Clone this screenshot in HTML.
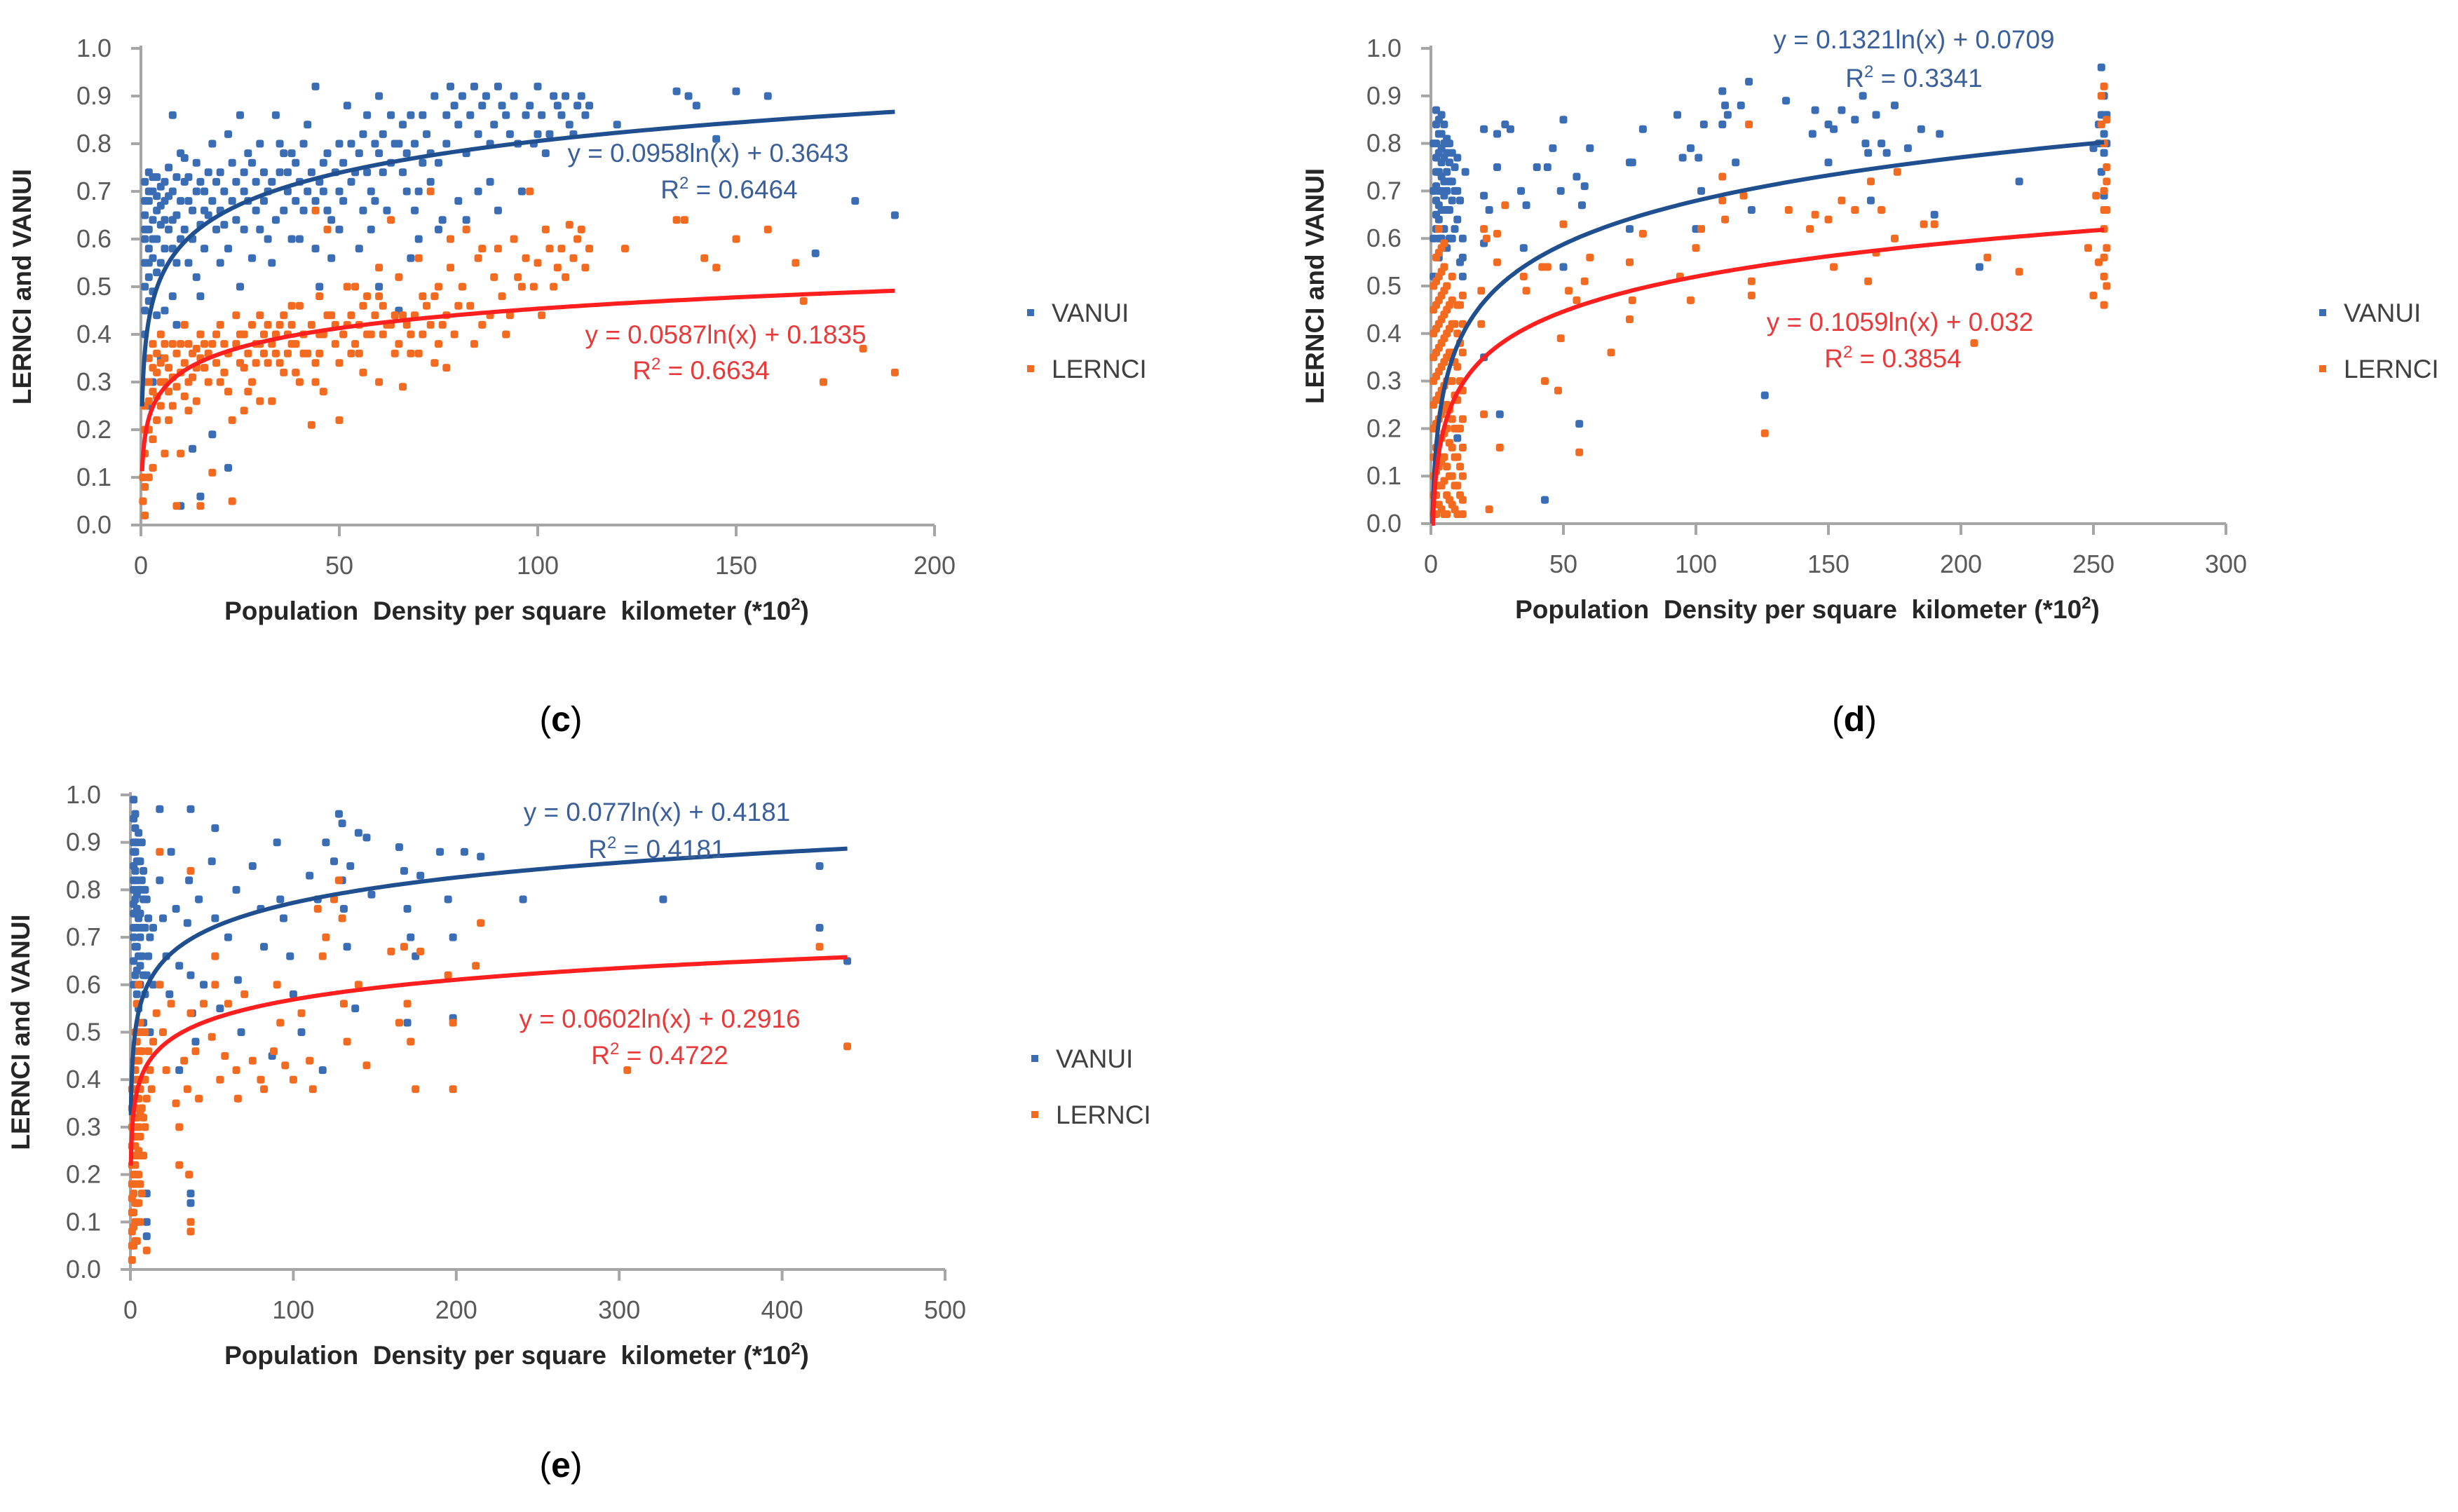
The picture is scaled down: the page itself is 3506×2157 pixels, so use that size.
<!DOCTYPE html>
<html><head><meta charset="utf-8"><style>
html,body{margin:0;padding:0;background:#fff;}
svg{display:block;}
text{font-family:"Liberation Sans Narrow","Liberation Sans",sans-serif;}
</style></head><body>
<svg id="fig" width="3506" height="2157" viewBox="0 0 3506 2157" xmlns="http://www.w3.org/2000/svg"></svg>
<script>
// ---------- data ----------
const yTicks = [0,0.1,0.2,0.3,0.4,0.5,0.6,0.7,0.8,0.9,1.0];
const cXTicks = [0,50,100,150,200];
const dXTicks = [0,50,100,150,200,250,300];
const eXTicks = [0,100,200,300,400,500];
const cVanuiFit = [0.0958,0.3643,190];
const cLernciFit = [0.0587,0.1835,190];
const dVanuiFit = [0.1321,0.0709,254];
const dLernciFit = [0.1059,0.032,254];
const eVanuiFit = [0.077,0.4181,440];
const eLernciFit = [0.0602,0.2916,440];
const cVanui = [[1,0.72],[1,0.65],[1,0.6],[1,0.55],[1,0.5],[1,0.45],[1,0.4],[2,0.74],[2,0.68],[2,0.62],[2,0.58],[2,0.52],[2,0.47],[3,0.7],[3,0.64],[3,0.56],[3,0.49],[4,0.73],[4,0.66],[4,0.6],[5,0.71],[5,0.63],[5,0.55],[6,0.68],[6,0.58],[7,0.75],[7,0.62],[8,0.86],[8,0.7],[9,0.65],[10,0.6],[10,0.78],[11,0.72],[12,0.55],[12,0.68],[14,0.76],[15,0.63],[15,0.48],[16,0.7],[18,0.8],[18,0.19],[20,0.66],[20,0.74],[22,0.58],[22,0.82],[24,0.72],[25,0.86],[25,0.5],[27,0.68],[28,0.76],[30,0.62],[30,0.8],[32,0.7],[33,0.55],[34,0.86],[35,0.74],[36,0.66],[38,0.78],[40,0.72],[40,0.6],[42,0.84],[44,0.92],[44,0.68],[45,0.5],[46,0.76],[48,0.64],[50,0.8],[50,0.7],[52,0.88],[54,0.74],[55,0.58],[56,0.82],[58,0.7],[60,0.78],[60,0.9],[62,0.66],[64,0.8],[65,0.45],[66,0.74],[68,0.86],[70,0.7],[70,0.6],[72,0.82],[74,0.9],[75,0.76],[76,0.64],[78,0.92],[80,0.84],[82,0.78],[84,0.92],[85,0.7],[86,0.88],[88,0.8],[90,0.92],[90,0.66],[92,0.86],[94,0.9],[95,0.8],[96,0.7],[98,0.88],[100,0.92],[100,0.82],[102,0.78],[104,0.9],[106,0.86],[108,0.84],[110,0.88],[112,0.86],[120,0.84],[135,0.91],[138,0.9],[140,0.88],[145,0.81],[150,0.91],[158,0.9],[170,0.57],[180,0.68],[190,0.65],[13,0.16],[15,0.06],[10,0.04],[22,0.12],[17,0.65],[9,0.42],[5,0.35],[3,0.3],[2,0.25],[26,0.62],[36,0.78],[46,0.7],[56,0.66],[66,0.84],[28,0.56],[38,0.6],[42,0.7],
[1,0.68],[1,0.62],[2,0.7],[2,0.55],[3,0.73],[3,0.6],[4,0.69],[4,0.53],[5,0.67],[6,0.72],[6,0.64],[7,0.69],[8,0.64],[8,0.58],[9,0.73],[9,0.55],[10,0.68],[11,0.62],[11,0.77],[12,0.73],[13,0.66],[13,0.6],[14,0.7],[15,0.72],[16,0.66],[16,0.58],[17,0.74],[18,0.68],[19,0.62],[19,0.72],[21,0.7],[21,0.63],[23,0.68],[23,0.76],[24,0.64],[26,0.74],[26,0.7],[27,0.78],[29,0.66],[29,0.72],[31,0.74],[31,0.68],[33,0.72],[34,0.64],[35,0.8],[37,0.7],[37,0.74],[39,0.68],[39,0.76],[41,0.66],[41,0.8],[43,0.74],[45,0.72],[47,0.78],[47,0.66],[49,0.74],[51,0.76],[51,0.68],[53,0.72],[53,0.8],[55,0.78],[57,0.74],[57,0.86],[59,0.8],[59,0.68],[61,0.74],[61,0.82],[63,0.76],[63,0.86],[65,0.8],[67,0.78],[67,0.7],[69,0.8],[69,0.66],[71,0.86],[71,0.76],[73,0.78],[73,0.72],[77,0.86],[77,0.8],[79,0.88],[81,0.9],[83,0.86],[85,0.82],[87,0.9],[89,0.84],[91,0.88],[93,0.82],[97,0.86],[99,0.8],[101,0.86],[103,0.82],[105,0.88],[107,0.9],[109,0.82],[111,0.9],[113,0.88],[58,0.62],[68,0.56],[75,0.62],[82,0.64],[48,0.56],[32,0.6],[20,0.55],[14,0.52],[8,0.48],[6,0.45],[4,0.44],[80,0.68],[88,0.72],[60,0.5],[44,0.58],[50,0.62]];
const cLernci = [[0.5,0.05],[0.5,0.1],[1,0.15],[1,0.2],[1,0.25],[1,0.02],[2,0.3],[2,0.35],[2,0.1],[3,0.38],[3,0.28],[3,0.18],[4,0.32],[4,0.22],[5,0.4],[5,0.3],[6,0.35],[6,0.15],[7,0.28],[8,0.38],[8,0.25],[9,0.04],[10,0.32],[10,0.15],[11,0.42],[12,0.3],[13,0.36],[14,0.26],[15,0.4],[15,0.04],[16,0.33],[18,0.38],[18,0.11],[20,0.3],[20,0.42],[22,0.36],[23,0.22],[23,0.05],[25,0.34],[26,0.4],[28,0.3],[30,0.38],[30,0.44],[32,0.34],[33,0.26],[35,0.42],[36,0.32],[38,0.38],[40,0.3],[40,0.46],[42,0.36],[43,0.21],[44,0.66],[45,0.4],[46,0.28],[48,0.44],[50,0.34],[50,0.22],[52,0.42],[54,0.5],[55,0.36],[56,0.46],[58,0.4],[60,0.3],[60,0.48],[62,0.42],[63,0.64],[64,0.36],[65,0.52],[66,0.44],[68,0.4],[70,0.56],[70,0.36],[72,0.46],[73,0.7],[74,0.34],[75,0.5],[76,0.42],[78,0.54],[80,0.46],[82,0.62],[84,0.38],[85,0.56],[88,0.44],[90,0.58],[92,0.4],[94,0.6],[95,0.52],[96,0.5],[98,0.7],[100,0.55],[102,0.62],[104,0.5],[106,0.58],[108,0.63],[110,0.6],[112,0.54],[122,0.58],[135,0.64],[137,0.64],[142,0.56],[145,0.54],[150,0.6],[158,0.62],[165,0.55],[167,0.47],[172,0.3],[182,0.37],[190,0.32],[47,0.62],[77,0.33],[66,0.29],[24,0.44],[34,0.36],[44,0.34],[54,0.38],[64,0.44],[27,0.28],[37,0.4],
[1,0.3],[1,0.08],[2,0.2],[2,0.26],[3,0.33],[3,0.12],[4,0.36],[4,0.27],[5,0.34],[5,0.25],[6,0.3],[6,0.38],[7,0.33],[7,0.22],[8,0.31],[9,0.36],[9,0.29],[10,0.38],[11,0.34],[11,0.27],[12,0.38],[12,0.24],[13,0.31],[14,0.37],[14,0.33],[15,0.35],[16,0.38],[17,0.3],[17,0.36],[19,0.34],[19,0.4],[21,0.38],[21,0.32],[22,0.28],[24,0.38],[25,0.4],[26,0.33],[27,0.36],[28,0.42],[29,0.38],[29,0.34],[31,0.4],[31,0.36],[32,0.42],[33,0.38],[34,0.4],[35,0.34],[36,0.44],[37,0.36],[38,0.42],[39,0.38],[39,0.32],[41,0.4],[41,0.36],[43,0.42],[45,0.36],[46,0.4],[47,0.44],[49,0.38],[49,0.42],[51,0.4],[53,0.44],[53,0.36],[55,0.42],[57,0.4],[57,0.48],[59,0.44],[61,0.4],[61,0.46],[63,0.42],[65,0.38],[67,0.42],[69,0.44],[71,0.4],[71,0.48],[73,0.42],[75,0.38],[77,0.44],[79,0.4],[81,0.5],[83,0.46],[86,0.42],[89,0.52],[91,0.48],[93,0.44],[97,0.56],[99,0.5],[101,0.44],[103,0.58],[105,0.54],[107,0.52],[109,0.56],[111,0.62],[113,0.58],[86,0.58],[78,0.6],[74,0.48],[60,0.54],[52,0.5],[45,0.48],[38,0.46],[30,0.26],[26,0.24],[44,0.3],[56,0.32],[68,0.36]];
const dVanui = [[2,0.87],[2,0.8],[2,0.74],[2,0.68],[2,0.62],[3,0.85],[3,0.78],[3,0.7],[3,0.64],[3,0.56],[4,0.82],[4,0.76],[4,0.7],[4,0.6],[5,0.8],[5,0.72],[5,0.66],[6,0.78],[6,0.7],[6,0.58],[7,0.76],[7,0.66],[8,0.72],[8,0.6],[9,0.7],[10,0.64],[10,0.77],[11,0.55],[12,0.6],[12,0.52],[13,0.74],[10,0.18],[1,0.52],[20,0.83],[20,0.69],[20,0.59],[20,0.35],[22,0.66],[25,0.75],[25,0.82],[26,0.23],[28,0.84],[30,0.83],[34,0.7],[35,0.58],[36,0.67],[40,0.75],[43,0.05],[44,0.75],[46,0.79],[49,0.7],[50,0.85],[50,0.54],[55,0.73],[56,0.21],[57,0.67],[58,0.71],[60,0.79],[75,0.76],[76,0.76],[75,0.62],[80,0.83],[93,0.86],[95,0.77],[98,0.79],[100,0.62],[101,0.77],[102,0.7],[103,0.84],[110,0.91],[110,0.84],[111,0.88],[112,0.86],[115,0.76],[117,0.88],[120,0.93],[121,0.66],[126,0.27],[134,0.89],[144,0.82],[145,0.87],[150,0.84],[150,0.76],[152,0.83],[155,0.87],[160,0.85],[163,0.9],[164,0.8],[165,0.78],[166,0.68],[168,0.86],[170,0.8],[172,0.78],[175,0.88],[180,0.79],[185,0.83],[190,0.65],[192,0.82],[207,0.54],[222,0.72],[250,0.79],[252,0.84],[253,0.96],[253,0.86],[254,0.82],[254,0.69],[255,0.86],[252,0.8],
[2,0.84],[2,0.77],[2,0.71],[2,0.65],[3,0.82],[3,0.74],[3,0.67],[3,0.6],[4,0.86],[4,0.79],[4,0.73],[4,0.66],[5,0.84],[5,0.77],[5,0.69],[5,0.62],[6,0.81],[6,0.74],[6,0.66],[7,0.8],[7,0.72],[7,0.6],[8,0.78],[8,0.68],[9,0.75],[9,0.62],[10,0.7],[11,0.68],[12,0.56],[1,0.6],[1,0.7],[1,0.8],[254,0.78],[253,0.74],[254,0.9],[255,0.8]];
const dLernci = [[1,0.02],[1,0.1],[1,0.2],[1,0.3],[1,0.4],[1,0.5],[2,0.06],[2,0.16],[2,0.26],[2,0.36],[2,0.46],[2,0.56],[3,0.04],[3,0.12],[3,0.22],[3,0.32],[3,0.42],[3,0.52],[3,0.62],[4,0.08],[4,0.18],[4,0.28],[4,0.38],[4,0.48],[4,0.58],[5,0.02],[5,0.14],[5,0.24],[5,0.34],[5,0.44],[5,0.54],[6,0.06],[6,0.2],[6,0.3],[6,0.4],[6,0.5],[7,0.1],[7,0.24],[7,0.36],[7,0.46],[8,0.04],[8,0.16],[8,0.3],[8,0.42],[8,0.52],[9,0.08],[9,0.2],[9,0.34],[10,0.02],[10,0.14],[10,0.26],[10,0.4],[11,0.06],[11,0.3],[11,0.46],[12,0.1],[12,0.22],[12,0.36],[12,0.48],[12,0.02],[19,0.49],[19,0.42],[20,0.23],[20,0.62],[21,0.6],[22,0.03],[25,0.61],[25,0.55],[26,0.16],[28,0.67],[35,0.52],[36,0.49],[42,0.54],[43,0.3],[44,0.54],[48,0.28],[49,0.39],[50,0.63],[52,0.49],[55,0.47],[56,0.15],[58,0.51],[60,0.56],[68,0.36],[75,0.55],[75,0.43],[76,0.47],[80,0.61],[94,0.52],[98,0.47],[100,0.58],[102,0.62],[110,0.73],[110,0.68],[111,0.64],[118,0.69],[120,0.84],[121,0.51],[121,0.48],[126,0.19],[135,0.66],[143,0.62],[145,0.65],[150,0.64],[152,0.54],[155,0.68],[160,0.66],[165,0.51],[166,0.72],[168,0.57],[170,0.66],[175,0.6],[176,0.74],[186,0.63],[190,0.63],[205,0.38],[210,0.56],[222,0.53],[248,0.58],[250,0.48],[251,0.69],[252,0.55],[253,0.9],[254,0.8],[254,0.7],[254,0.62],[254,0.52],[254,0.46],[255,0.75],[255,0.85],[255,0.66],[255,0.58],[254,0.92],
[1,0.06],[1,0.14],[1,0.25],[1,0.35],[1,0.45],[2,0.02],[2,0.11],[2,0.21],[2,0.31],[2,0.41],[2,0.51],[3,0.08],[3,0.17],[3,0.27],[3,0.37],[3,0.47],[3,0.57],[4,0.03],[4,0.13],[4,0.23],[4,0.33],[4,0.43],[4,0.53],[5,0.09],[5,0.19],[5,0.29],[5,0.39],[5,0.49],[5,0.59],[6,0.02],[6,0.12],[6,0.25],[6,0.35],[6,0.45],[7,0.05],[7,0.17],[7,0.3],[7,0.41],[8,0.1],[8,0.22],[8,0.36],[8,0.47],[9,0.03],[9,0.14],[9,0.27],[9,0.42],[10,0.08],[10,0.2],[10,0.33],[10,0.46],[11,0.12],[11,0.2],[11,0.38],[12,0.05],[12,0.16],[12,0.28],[12,0.42],[254,0.56],[254,0.66],[255,0.72],[255,0.5],[253,0.84]];
const eVanui = [[2,0.99],[2,0.9],[2,0.85],[2,0.8],[2,0.75],[2,0.7],[2,0.65],[3,0.93],[3,0.88],[3,0.78],[3,0.72],[3,0.62],[4,0.9],[4,0.82],[4,0.76],[4,0.68],[4,0.58],[5,0.86],[5,0.74],[5,0.55],[6,0.8],[6,0.7],[6,0.6],[7,0.9],[7,0.66],[8,0.84],[8,0.52],[9,0.72],[10,0.78],[10,0.62],[12,0.7],[12,0.5],[10,0.16],[10,0.1],[10,0.07],[18,0.97],[18,0.82],[20,0.74],[22,0.66],[24,0.58],[25,0.88],[28,0.76],[30,0.64],[30,0.42],[35,0.73],[36,0.82],[37,0.97],[37,0.62],[38,0.54],[37,0.16],[37,0.14],[40,0.48],[42,0.78],[45,0.6],[50,0.86],[52,0.93],[52,0.74],[55,0.55],[60,0.7],[65,0.8],[66,0.61],[68,0.5],[75,0.85],[80,0.76],[82,0.68],[87,0.45],[90,0.9],[92,0.78],[94,0.74],[98,0.66],[100,0.58],[105,0.5],[110,0.83],[115,0.78],[118,0.42],[120,0.9],[125,0.86],[128,0.96],[130,0.94],[130,0.82],[131,0.76],[133,0.68],[135,0.85],[138,0.55],[140,0.92],[145,0.91],[148,0.79],[165,0.89],[168,0.84],[170,0.76],[172,0.7],[175,0.66],[178,0.83],[190,0.88],[195,0.78],[198,0.7],[205,0.88],[215,0.87],[241,0.78],[327,0.78],[423,0.72],[423,0.85],[440,0.65],[170,0.52],[198,0.53],
[2,0.95],[2,0.88],[2,0.82],[2,0.77],[2,0.72],[2,0.6],[3,0.96],[3,0.84],[3,0.75],[3,0.68],[4,0.86],[4,0.79],[4,0.72],[4,0.63],[5,0.92],[5,0.8],[5,0.66],[6,0.86],[6,0.75],[6,0.64],[7,0.82],[7,0.72],[8,0.78],[8,0.62],[9,0.8],[9,0.58],[11,0.74],[11,0.66],[14,0.6],[14,0.72]];
const eLernci = [[1,0.02],[1,0.08],[1,0.15],[1,0.22],[1,0.3],[1,0.38],[2,0.05],[2,0.12],[2,0.2],[2,0.28],[2,0.36],[2,0.44],[3,0.1],[3,0.18],[3,0.26],[3,0.34],[3,0.42],[3,0.5],[4,0.06],[4,0.14],[4,0.24],[4,0.32],[4,0.4],[4,0.48],[4,0.56],[5,0.2],[5,0.3],[5,0.44],[5,0.6],[6,0.1],[6,0.28],[6,0.38],[6,0.52],[7,0.16],[7,0.34],[7,0.46],[8,0.24],[8,0.4],[9,0.3],[9,0.5],[10,0.04],[10,0.36],[12,0.42],[14,0.48],[18,0.88],[18,0.6],[20,0.5],[22,0.42],[25,0.56],[28,0.35],[30,0.3],[30,0.22],[33,0.44],[35,0.38],[36,0.2],[37,0.1],[37,0.08],[37,0.54],[37,0.84],[40,0.46],[42,0.36],[45,0.56],[50,0.49],[52,0.66],[52,0.6],[55,0.4],[58,0.45],[60,0.56],[65,0.42],[66,0.36],[70,0.58],[75,0.44],[80,0.4],[82,0.38],[88,0.46],[90,0.6],[92,0.52],[95,0.43],[100,0.4],[105,0.54],[110,0.44],[112,0.38],[115,0.76],[118,0.66],[120,0.7],[125,0.78],[128,0.82],[130,0.74],[131,0.56],[133,0.48],[140,0.6],[145,0.43],[160,0.67],[165,0.52],[168,0.68],[170,0.56],[172,0.48],[175,0.38],[178,0.67],[195,0.62],[198,0.52],[198,0.38],[212,0.64],[215,0.73],[305,0.42],[423,0.68],[440,0.47],
[1,0.05],[1,0.12],[1,0.18],[1,0.26],[1,0.34],[2,0.09],[2,0.16],[2,0.24],[2,0.32],[2,0.4],[3,0.06],[3,0.14],[3,0.22],[3,0.3],[3,0.38],[3,0.46],[4,0.1],[4,0.2],[4,0.28],[4,0.36],[4,0.44],[5,0.14],[5,0.25],[5,0.36],[5,0.5],[6,0.18],[6,0.33],[6,0.46],[7,0.24],[7,0.4],[8,0.32],[8,0.5],[9,0.4],[11,0.46],[13,0.38],[16,0.54]];

// ---------- drawing ----------
const NS = "http://www.w3.org/2000/svg";
const svg = document.getElementById('fig');
function mk(tag, attrs, parent){
  const el = document.createElementNS(NS, tag);
  for (const k in attrs) el.setAttribute(k, attrs[k]);
  (parent||svg).appendChild(el);
  return el;
}
const BLUE = '#3a6db3', ORANGE = '#f26b21', BLUEL = '#1f4f8f', REDL = '#ff1f1f';

function chart(cfg){
  const g = mk('g', {});
  
  
  const {x0,x1,y0,y1,xmax} = cfg;
  const sx = v => x0 + (v / xmax) * (x1 - x0);
  const sy = v => y0 - v * (y0 - y1);
  const ya = mk('line', {x1:x0, y1:y1-4, x2:x0, y2:y0, stroke:'#a6a6a6','stroke-width':4}, g);
  
  
  const xa = mk('line', {x1:x0-14, y1:y0, x2:x1, y2:y0, stroke:'#a6a6a6','stroke-width':4}, g);
  
  
  yTicks.forEach(t => {
    const y = sy(t);
    mk('line', {x1:x0-14, y1:y, x2:x0, y2:y, stroke:'#a6a6a6','stroke-width':4}, g);
    const tx = mk('text', {x:x0-42, y:y+12, 'text-anchor':'end', 'font-size':36, fill:'#595959'}, g);
    tx.textContent = t.toFixed(1);
    
    
  });
  cfg.xTicks.forEach(t => {
    const x = sx(t);
    mk('line', {x1:x, y1:y0, x2:x, y2:y0+16, stroke:'#a6a6a6','stroke-width':4}, g);
    const tx = mk('text', {x:x, y:y0+70, 'text-anchor':'middle', 'font-size':36, fill:'#595959'}, g);
    tx.textContent = t;
    
    
  });
  const xt = mk('text', {x:(x0+x1)/2 - 30, y:y0+135, 'text-anchor':'middle', 'font-size':37, 'font-weight':'bold', fill:'#262626'}, g);
  xt.innerHTML = 'Population&#160; Density per square&#160; kilometer (*10<tspan font-size="24" dy="-14">2</tspan><tspan dy="14">)</tspan>';
  
  
  const yc = (y0+y1)/2;
  const yt = mk('text', {x:cfg.ytx, y:yc, 'text-anchor':'middle', 'font-size':37, 'font-weight':'bold', fill:'#262626', transform:`rotate(-90 ${cfg.ytx} ${yc})`}, g);
  yt.textContent = 'LERNCI and VANUI';
  
  
  function pts(arr, color, nm){
    const pg = mk('g', {fill:color}, g);
    
    
    arr.forEach(p => {
      const c = mk('rect', {x:sx(p[0])-5.5, y:sy(p[1])-5.5, width:11, height:11, rx:3}, pg);
      
      
    });
  }
  pts(cfg.blue, BLUE, 'vanui-points');
  pts(cfg.orange, ORANGE, 'lernci-points');
  function trend(fit, color, nm){
    const [a,b,xm] = fit;
    let d = '';
    for (let i=0;i<=400;i++){
      const x = 0.3 * Math.pow(xm/0.3, i/400);
      let y = a*Math.log(x)+b; if (y<0) y=0;
      d += (i?'L':'M') + sx(x).toFixed(1) + ' ' + sy(y).toFixed(1);
    }
    const p = mk('path', {d:d, fill:'none', stroke:color, 'stroke-width':6}, g);
    
    
  }
  trend(cfg.bfit, BLUEL, 'vanui-trendline');
  trend(cfg.rfit, REDL, 'lernci-trendline');
  function eq(t, x, y, color, nm){
    const e = mk('text', {x:x, y:y, 'text-anchor':'middle', 'font-size':37, fill:color}, g);
    e.innerHTML = t;
    
    
  }
  const fmt = f => `y = ${f[0]}ln(x) + ${f[1]}`;
  eq(fmt(cfg.bfit), cfg.beq[0], cfg.beq[1], '#3a5f9a', 'vanui-equation');
  eq(`R<tspan font-size="24" dy="-14">2</tspan><tspan dy="14"> = ${cfg.br2}</tspan>`, cfg.beq[2], cfg.beq[3], '#3a5f9a', 'vanui-r-squared');
  eq(fmt(cfg.rfit), cfg.req[0], cfg.req[1], '#e83a3a', 'lernci-equation');
  eq(`R<tspan font-size="24" dy="-14">2</tspan><tspan dy="14"> = ${cfg.rr2}</tspan>`, cfg.req[2], cfg.req[3], '#e83a3a', 'lernci-r-squared');
  const lg = mk('g', {}, g);
  
  
  [['VANUI',BLUE,0],['LERNCI',ORANGE,80]].forEach(([lab,col,dy]) => {
    const en = mk('g', {}, lg);
    
    
    mk('rect', {x:cfg.leg[0]-5, y:cfg.leg[1]+dy-5, width:10, height:10, fill:col}, en);
    const t = mk('text', {x:cfg.leg[0]+30, y:cfg.leg[1]+dy+13, 'font-size':37, fill:'#404040'}, en);
    t.textContent = lab;
  });
  const pl = mk('text', {x:cfg.lab[0], y:cfg.lab[1], 'text-anchor':'middle', 'font-size':50, 'font-family':'"Liberation Serif",serif', fill:'#000'}, g);
  pl.innerHTML = `(<tspan font-weight="bold">${cfg.letter}</tspan>)`;
  
  
}

chart({name:'chart-c', x0:201, x1:1333, y0:749, y1:69, xmax:200, xTicks:cXTicks, ytx:44,
  blue:cVanui, orange:cLernci, bfit:cVanuiFit, rfit:cLernciFit, br2:'0.6464', rr2:'0.6634',
  beq:[1010,231,1040,283], req:[1035,490,1000,541], leg:[1470,446], lab:[800,1043], letter:'c'});
chart({name:'chart-d', x0:2041, x1:3175, y0:747, y1:69, xmax:300, xTicks:dXTicks, ytx:1888,
  blue:dVanui, orange:dLernci, bfit:dVanuiFit, rfit:dLernciFit, br2:'0.3341', rr2:'0.3854',
  beq:[2730,69,2730,124], req:[2710,472,2700,524], leg:[3313,446], lab:[2645,1043], letter:'d'});
chart({name:'chart-e', x0:186, x1:1348, y0:1811, y1:1134, xmax:500, xTicks:eXTicks, ytx:42,
  blue:eVanui, orange:eLernci, bfit:eVanuiFit, rfit:eLernciFit, br2:'0.4181', rr2:'0.4722',
  beq:[937,1171,937,1224], req:[941,1466,941,1518], leg:[1476,1510], lab:[800,2107], letter:'e'});
</script>
</body></html>
